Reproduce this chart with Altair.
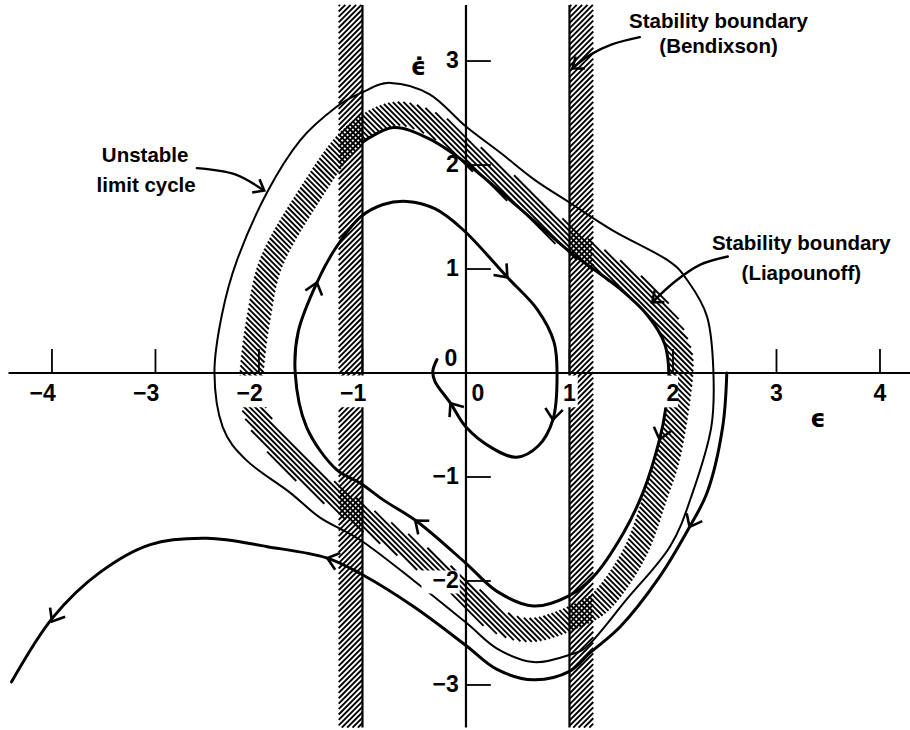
import altair as alt
import numpy as np
import pandas as pd

# ---------------------------------------------------------------- data
# Inner trajectory (spirals inward to the equilibrium), start -> end
inner_x = [-1.00, -0.70, -0.35, 0.00, 0.50, 1.00, 1.50, 1.75, 1.92, 1.96, 1.93, 1.87, 1.71, 1.52,
           1.23, 1.00, 0.65, 0.30, 0.00, -0.47, -0.80, -1.02, -1.25, -1.54, -1.65, -1.62, -1.44,
           -1.26, -1.02, -0.80, -0.57, -0.30, -0.03, 0.40, 0.69, 0.85, 0.88, 0.84, 0.70, 0.49,
           0.25, 0.00, -0.15, -0.30, -0.32, -0.28]
inner_y = [2.22, 2.36, 2.25, 2.02, 1.60, 1.17, 0.80, 0.56, 0.28, 0.00, -0.34, -0.64, -1.15, -1.54,
           -1.96, -2.14, -2.24, -2.10, -1.83, -1.43, -1.22, -1.06, -0.93, -0.52, 0.00, 0.40, 0.87,
           1.20, 1.50, 1.62, 1.65, 1.58, 1.38, 0.92, 0.61, 0.30, 0.00, -0.45, -0.70, -0.81,
           -0.72, -0.52, -0.29, -0.08, 0.02, 0.13]

# Unstable limit cycle (closed)
cycle_x = [-2.43, -2.36, -2.21, -1.92, -1.60, -1.25, -1.00, -0.73, -0.35, 0.00, 0.33, 0.66, 1.00,
           1.42, 1.94, 2.14, 2.33, 2.39, 2.37, 2.19, 1.97, 1.55, 1.20, 1.00, 0.65, 0.30, 0.00,
           -0.50, -1.00, -1.41, -1.70, -2.12, -2.35]
cycle_y = [0.00, 0.55, 1.09, 1.74, 2.24, 2.56, 2.70, 2.79, 2.68, 2.37, 2.12, 1.86, 1.64, 1.37,
           1.09, 0.89, 0.54, 0.03, -0.52, -1.15, -1.67, -2.18, -2.60, -2.71, -2.78, -2.65, -2.40,
           -2.00, -1.62, -1.39, -1.15, -0.84, -0.52]

# Outer trajectory (leaves the limit cycle), start -> end
outer_x = [2.52, 2.48, 2.33, 2.16, 1.87, 1.49, 1.20, 1.00, 0.65, 0.30, 0.00, -0.50, -1.00, -1.34,
           -1.92, -2.50, -3.05, -3.54, -3.99, -4.39]
outer_y = [0.00, -0.52, -1.15, -1.48, -1.96, -2.44, -2.69, -2.87, -2.95, -2.85, -2.62, -2.25,
           -1.94, -1.78, -1.67, -1.59, -1.65, -1.92, -2.35, -2.97]

# Liapounoff stability boundary: centre line of the hatched ring (closed)
band_x = [-2.07, -2.00, -1.87, -1.50, -1.12, -0.70, -0.30, 0.00, 0.50, 1.00, 1.55, 1.85, 2.03,
          2.08, 1.97, 1.83, 1.64, 1.35, 1.10, 0.65, 0.30, 0.00, -0.50, -1.12, -1.60, -1.90, -2.05]
band_y = [0.00, 0.55, 1.09, 1.73, 2.25, 2.49, 2.38, 2.14, 1.72, 1.28, 0.90, 0.62, 0.30,
          0.00, -0.74, -1.19, -1.71, -2.15, -2.32, -2.47, -2.38, -2.12, -1.73, -1.30, -0.92,
          -0.60, -0.33]
band_width = 0.23

# Bendixson stability boundary |eps| = 1, hatched outward
bendixson_edges = [-1.0, 1.0]
bendixson_width = 0.23
bendixson_span = [-3.41, 3.54]

# Arrowheads on the trajectories: position and heading (deg, clockwise on screen)
arrow_x = [1.87, -0.49, -1.44, 0.40, 0.84, -0.15, 2.16, -1.34, -4.00]
arrow_y = [-0.64, -1.42, 0.87, 0.92, -0.45, -0.29, -1.48, -1.78, -2.39]
arrow_a = [105, 219, 287, 48, 96, 235, 117, 197, 121]

# Leader arrows of the annotations
lead_unstable_x = [-2.60, -2.23, -1.96]
lead_unstable_y = [1.97, 1.91, 1.76]
lead_bendixson_x = [1.68, 1.41, 1.20, 1.03]
lead_bendixson_y = [3.23, 3.16, 3.06, 2.93]
lead_liap_x = [2.53, 2.26, 2.02, 1.80]
lead_liap_y = [1.12, 1.04, 0.88, 0.68]
lead_head_x = [-1.95, 1.03, 1.80]
lead_head_y = [1.755, 2.93, 0.68]
lead_head_a = [29, 143, 140]

x_ticks = [-4, -3, -2, -1, 1, 2, 3, 4]
y_ticks = [-3, -2, -1, 1, 2, 3]

# ---------------------------------------------------------------- scales
X0, X1 = -4.502, 4.290
Y0, Y1 = -3.433, 3.587
xs = alt.Scale(domain=[X0, X1], nice=False, zero=False)
ys = alt.Scale(domain=[Y0, Y1], nice=False, zero=False)
FONT = "Liberation Sans"


def X(f="x"):
    return alt.X(f"{f}:Q", scale=xs, axis=None)


def Y(f="y"):
    return alt.Y(f"{f}:Q", scale=ys, axis=None)


def curve(xv, yv, width, interp):
    df = pd.DataFrame({"x": xv, "y": yv, "i": range(len(xv))})
    return alt.Chart(df).mark_line(
        color="black", strokeWidth=width, interpolate=interp,
        strokeCap="round", strokeJoin="round"
    ).encode(x=X(), y=Y(), order="i:Q")


# ---------------------------------------------------------------- hatching
def smooth_closed(px, py, n=14):
    P = np.column_stack([px, py])
    N = len(P)
    t = np.linspace(0, 1, n, endpoint=False)[:, None]
    out = []
    for k in range(N):
        p0, p1, p2, p3 = P[(k - 1) % N], P[k], P[(k + 1) % N], P[(k + 2) % N]
        out.append(0.5 * (2 * p1 + (-p0 + p2) * t + (2 * p0 - 5 * p1 + 4 * p2 - p3) * t ** 2
                          + (-p0 + 3 * p1 - 3 * p2 + p3) * t ** 3))
    return np.vstack(out)


def ring(px, py, w):
    C = smooth_closed(px, py)
    T = np.roll(C, -1, axis=0) - np.roll(C, 1, axis=0)
    Nrm = np.column_stack([T[:, 1], -T[:, 0]])
    Nrm /= np.linalg.norm(Nrm, axis=1)[:, None]
    return [C + Nrm * w / 2, C - Nrm * w / 2]


def hatch(polys, s, step):
    E = np.vstack([np.hstack([P, np.roll(P, -1, axis=0)]) for P in polys])
    f0 = E[:, 1] - s * E[:, 0]
    f1 = E[:, 3] - s * E[:, 2]
    lo, hi = min(f0.min(), f1.min()), max(f0.max(), f1.max())
    rows = []
    for c in np.arange(np.floor(lo / step) * step + step / 2, hi, step):
        m = (f0 - c) * (f1 - c) < 0
        if not m.any():
            continue
        t = (c - f0[m]) / (f1[m] - f0[m])
        xx = np.sort(E[m, 0] + t * (E[m, 2] - E[m, 0]))
        for a, b in zip(xx[0::2], xx[1::2]):
            rows.append((a, s * a + c, b, s * b + c))
    return pd.DataFrame(rows, columns=["x", "y", "x2", "y2"])


STEP = 0.052
liap_hatch = hatch(ring(band_x, band_y, band_width), -1.0, STEP)
bend_polys = []
for e in bendixson_edges:
    xa, xb = sorted([e, e + np.sign(e) * bendixson_width])
    ya, yb = bendixson_span
    bend_polys.append(np.array([[xa, ya], [xb, ya], [xb, yb], [xa, yb]]))
bend_hatch = hatch(bend_polys, 1.0, STEP)

hatch_df = pd.concat([liap_hatch, bend_hatch], ignore_index=True)
hatch_layer = alt.Chart(hatch_df).mark_rule(color="black", strokeWidth=1.9).encode(
    x=X(), y=Y(), x2="x2:Q", y2="y2:Q")

bend_edge = alt.Chart(pd.DataFrame({"x": bendixson_edges, "y": [bendixson_span[0]] * 2,
                                    "y2": [bendixson_span[1]] * 2})).mark_rule(
    color="black", strokeWidth=2.2).encode(x=X(), y=Y(), y2="y2:Q")

# ---------------------------------------------------------------- axes
axes_df = pd.DataFrame({"x": [-4.42, 0.0], "y": [0.0, -3.41], "x2": [4.29, 0.0], "y2": [0.0, 3.54]})
axes = alt.Chart(axes_df).mark_rule(color="black", strokeWidth=2.2).encode(
    x=X(), y=Y(), x2="x2:Q", y2="y2:Q")
xt = alt.Chart(pd.DataFrame({"x": x_ticks, "y": 0.0, "y2": 0.23})).mark_rule(
    color="black", strokeWidth=1.8).encode(x=X(), y=Y(), y2="y2:Q")
yt = alt.Chart(pd.DataFrame({"y": y_ticks, "x": 0.0, "x2": 0.24})).mark_rule(
    color="black", strokeWidth=1.8).encode(x=X(), y=Y(), x2="x2:Q")

# white ground behind tick labels that sit on hatched bands
cover = pd.DataFrame({
    "x": [-2.25, -1.29, 0.95, 1.88, -0.43],
    "x2": [-1.90, -0.98, 1.08, 2.05, -0.06],
    "y": [-0.025, -0.025, -0.025, -0.025, -1.90],
    "y2": [-0.33, -0.33, -0.33, -0.33, -2.12],
})
covers = alt.Chart(cover).mark_rect(color="white").encode(x=X(), y=Y(), x2="x2:Q", y2="y2:Q")

# ---------------------------------------------------------------- curves
inner = curve(inner_x, inner_y, 3.0, "catmull-rom")
cycle = curve(cycle_x, cycle_y, 2.0, "cardinal-closed")
outer = curve(outer_x, outer_y, 3.0, "catmull-rom")
lead1 = curve(lead_unstable_x, lead_unstable_y, 2.4, "catmull-rom")
lead2 = curve(lead_bendixson_x, lead_bendixson_y, 2.4, "catmull-rom")
lead3 = curve(lead_liap_x, lead_liap_y, 2.4, "catmull-rom")

CHEVRON = "M-1,-0.8L0,0L-1,0.8"
heads = alt.Chart(pd.DataFrame({"x": arrow_x, "y": arrow_y, "a": arrow_a})).mark_point(
    shape=CHEVRON, filled=False, color="black", strokeWidth=2.6, size=480, opacity=1
).encode(x=X(), y=Y(), angle=alt.Angle("a:Q", scale=None))
lead_heads = alt.Chart(pd.DataFrame({"x": lead_head_x, "y": lead_head_y, "a": lead_head_a})).mark_point(
    shape=CHEVRON, filled=False, color="black", strokeWidth=2.6, size=360, opacity=1
).encode(x=X(), y=Y(), angle=alt.Angle("a:Q", scale=None))

# ---------------------------------------------------------------- text
def texts(df, **kw):
    base = dict(font=FONT, fontWeight="bold", color="black")
    base.update(kw)
    return alt.Chart(df).mark_text(**base).encode(x=X(), y=Y(), text="t:N")


xlab = pd.DataFrame({"x": [v - 0.09 if v < 0 else v for v in x_ticks], "y": -0.265,
                     "t": [("\u2212" + str(-v)) if v < 0 else str(v) for v in x_ticks]})
ylab = pd.DataFrame({"x": -0.07, "y": y_ticks,
                     "t": [("\u2212" + str(-v)) if v < 0 else str(v) for v in y_ticks]})
zeros = pd.DataFrame({"x": [-0.145, 0.115], "y": [0.07, -0.265], "t": ["0", "0"]})

notes = pd.DataFrame({
    "x": [2.44, 2.44, 3.24, 3.24, -3.10, -3.09],
    "y": [3.32, 3.08, 1.18, 0.89, 2.03, 1.74],
    "t": ["Stability boundary", "(Bendixson)", "Stability boundary", "(Liapounoff)",
          "Unstable", "limit cycle"],
})
symbols = pd.DataFrame({"x": [-0.46, 3.40], "y": [2.93, -0.45], "t": ["\u03f5\u0307", "\u03f5"]})

layers = [
    hatch_layer, bend_edge, axes, xt, yt,
    cycle, inner, outer, lead1, lead2, lead3, heads, lead_heads,
    covers,
    texts(xlab, fontSize=23, align="center", baseline="alphabetic"),
    texts(ylab, fontSize=23, align="right", baseline="middle"),
    texts(zeros, fontSize=23, align="center", baseline="alphabetic"),
    texts(notes, fontSize=20.5, align="center", baseline="alphabetic"),
    texts(symbols, fontSize=24, align="center", baseline="middle", font="DejaVu Sans"),
]

chart = alt.layer(*layers).properties(
    width=910, height=730, padding=0, autosize=alt.AutoSizeParams(type="none"),
    background="white",
).configure_view(stroke=None)

chart.save("out.html", embed_options={"renderer": "svg", "actions": False})
